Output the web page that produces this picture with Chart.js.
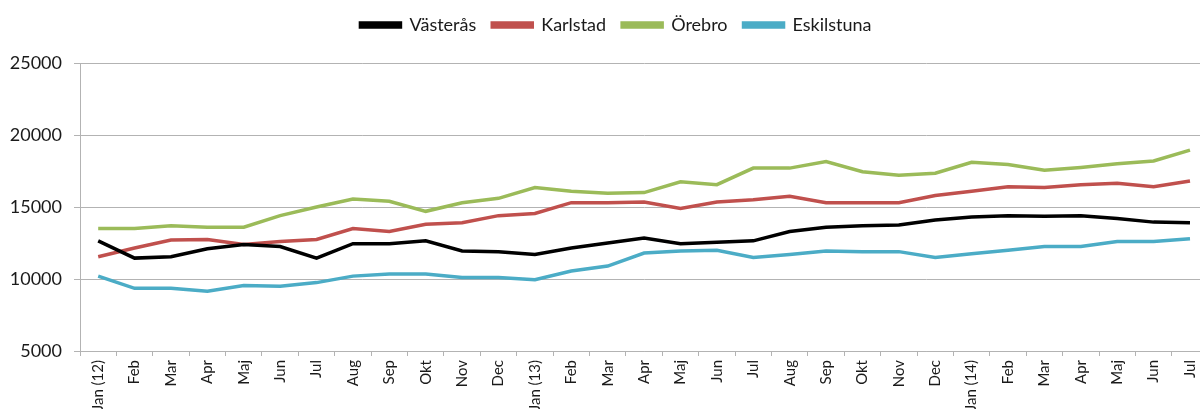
<!DOCTYPE html>
<html>
<head>
<meta charset="utf-8">
<script src="https://cdn.jsdelivr.net/npm/chart.js@4"></script>
<style>
  html, body { margin: 0; padding: 0; background: #fff; overflow: hidden; }
  #wrap { width: 1212px; height: 409px; }
</style>
</head>
<body>
<div id="wrap"><canvas id="chart"></canvas></div>
<script>
const months = ["Jan (12)", "Feb", "Mar", "Apr", "Maj", "Jun", "Jul", "Aug", "Sep", "Okt", "Nov", "Dec",
  "Jan (13)", "Feb", "Mar", "Apr", "Maj", "Jun", "Jul", "Aug", "Sep", "Okt", "Nov", "Dec",
  "Jan (14)", "Feb", "Mar", "Apr", "Maj", "Jun", "Jul"]

const vasteras = [12650, 11450, 11550, 12100, 12400, 12250, 11450, 12450, 12450, 12650, 11950, 11900,
  11700, 12150, 12500, 12850, 12450, 12550, 12650, 13300, 13600, 13700, 13750, 14100,
  14300, 14400, 14350, 14400, 14200, 13950, 13900]
const karlstad = [11550, 12150, 12700, 12750, 12400, 12600, 12750, 13500, 13300, 13800, 13900, 14400,
  14550, 15300, 15300, 15350, 14900, 15350, 15500, 15750, 15300, 15300, 15300, 15800,
  16100, 16400, 16350, 16550, 16650, 16400, 16800]
const orebro = [13500, 13500, 13700, 13600, 13600, 14400, 15000, 15550, 15400, 14700, 15300, 15600,
  16350, 16100, 15950, 16000, 16750, 16550, 17700, 17700, 18150, 17450, 17200, 17350,
  18100, 17950, 17550, 17750, 18000, 18200, 18950]
const eskilstuna = [10200, 9350, 9350, 9150, 9550, 9500, 9750, 10200, 10350, 10350, 10100, 10100,
  9950, 10550, 10900, 11800, 11950, 12000, 11500, 11700, 11950, 11900, 11900, 11500,
  11750, 12000, 12250, 12250, 12600, 12600, 12800]

const yTicks = [5000, 10000, 15000, 20000, 25000]

const series = [
  { label: "Västerås", data: vasteras, color: "#000000" },
  { label: "Karlstad", data: karlstad, color: "#c0504d" },
  { label: "Örebro", data: orebro, color: "#9bbb59" },
  { label: "Eskilstuna", data: eskilstuna, color: "#4bacc6" },
]

const gridColor = "#b3b3b3"
const textColor = "#1a1a1a"

// extra room under the legend, and nudge it a bit right like the original
const legendSpace = {
  id: "legendSpace",
  beforeInit(chart) {
    const fit = chart.legend.fit
    chart.legend.fit = function () {
      fit.bind(this)()
      this.height += 19
    }
  },
  afterLayout(chart) {
    chart.legend.left += 10
    chart.legend.right += 10
  }
}

new Chart(document.getElementById("chart"), {
  type: "line",
  data: {
    labels: months,
    datasets: series.map(s => ({
      label: s.label,
      data: s.data,
      borderColor: s.color,
      backgroundColor: s.color,
      borderWidth: 3.5,
      pointRadius: 0,
      tension: 0,
      fill: false,
    }))
  },
  plugins: [legendSpace],
  options: {
    responsive: true,
    maintainAspectRatio: false,
    animation: false,
    layout: { padding: 0 },
    plugins: {
      legend: {
        position: "top",
        labels: {
          boxWidth: 40,
          boxHeight: 4,
          padding: 16,
          color: textColor,
          font: { family: "Lato", size: 18 },
        }
      },
      tooltip: { enabled: false }
    },
    scales: {
      x: {
        offset: true,
        grid: {
          offset: true,
          drawOnChartArea: false,
          drawTicks: true,
          tickLength: 5,
          color: gridColor,
        },
        border: { color: gridColor, width: 1 },
        ticks: {
          autoSkip: false,
          minRotation: 90,
          maxRotation: 90,
          padding: 4,
          color: textColor,
          font: { family: "Lato", size: 15 },
        },
        afterFit: (scale) => { scale.height = 58 }
      },
      y: {
        min: 5000,
        max: 25000,
        afterBuildTicks: (scale) => { scale.ticks = yTicks.map(v => ({ value: v })) },
        grid: { color: gridColor, tickLength: 6 },
        border: { color: gridColor, width: 1 },
        ticks: {
          padding: 12,
          color: textColor,
          font: { family: "Lato", size: 18 },
          callback: (v) => String(v)
        },
        afterFit: (scale) => { scale.width = 80 }
      }
    }
  }
})
</script>
</body>
</html>
